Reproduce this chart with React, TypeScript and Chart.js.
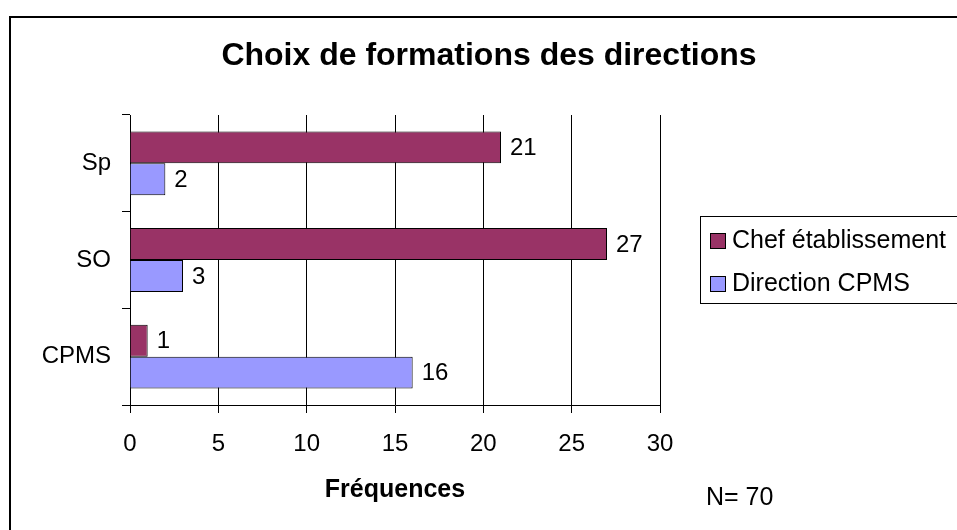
import React, { useEffect, useRef } from "react";
import { Chart, registerables } from "chart.js";

Chart.register(...registerables);

const categories = ["Sp", "SO", "CPMS"];
const seriesNames = ["Chef établissement", "Direction CPMS"];
const chefValues = [21, 27, 1];
const cpmsValues = [2, 3, 16];
const xTicks = [0, 5, 10, 15, 20, 25, 30];
const titleText = "Choix de formations des directions";
const xAxisTitle = "Fréquences";
const noteText = "N= 70";

const FONT = "'Liberation Sans', Arial, sans-serif";

const decorPlugin = {
  id: "decor",
  beforeDraw(chart: any) {
    const ctx = chart.ctx;
    ctx.save();
    ctx.fillStyle = "#ffffff";
    ctx.fillRect(0, 0, chart.width, chart.height);
    ctx.lineWidth = 2;
    ctx.strokeStyle = "#000000";
    ctx.strokeRect(10, 17, 1000, 600);
    ctx.restore();
  },
  afterDraw(chart: any) {
    const ctx = chart.ctx;
    ctx.save();
    ctx.fillStyle = "#000000";
    // title
    ctx.font = `bold 32px ${FONT}`;
    ctx.textAlign = "center";
    ctx.textBaseline = "middle";
    ctx.fillText(titleText, 489, 56);
    // axis title
    ctx.font = `bold 25px ${FONT}`;
    ctx.fillText(xAxisTitle, 395, 490);
    // note
    ctx.font = `25px ${FONT}`;
    ctx.textAlign = "left";
    ctx.fillText(noteText, 706, 498);
    // data labels
    ctx.font = `24px ${FONT}`;
    chart.data.datasets.forEach((ds: any, di: number) => {
      const meta = chart.getDatasetMeta(di);
      meta.data.forEach((el: any, i: number) => {
        ctx.fillText(String(ds.data[i]), el.x + 9, el.y + 1);
      });
    });
    // legend
    ctx.lineWidth = 1;
    ctx.strokeStyle = "#000000";
    ctx.strokeRect(700.5, 216.5, 400, 87);
    chart.data.datasets.forEach((ds: any, di: number) => {
      const cy = 241 + di * 43;
      ctx.fillStyle = ds.backgroundColor;
      ctx.fillRect(710, cy - 8, 16, 16);
      ctx.strokeRect(710.5, cy - 7.5, 15, 15);
      ctx.fillStyle = "#000000";
      ctx.font = `25px ${FONT}`;
      ctx.fillText(ds.label, 732, cy);
    });
    ctx.restore();
  },
};

export default function App() {
  const ref = useRef<HTMLCanvasElement>(null);
  useEffect(() => {
    if (!ref.current) return;
    const chart = new Chart(ref.current, {
      type: "bar",
      data: {
        labels: categories,
        datasets: [
          {
            label: seriesNames[0],
            data: chefValues,
            backgroundColor: "#993366",
            borderColor: "#000000",
            borderWidth: 1,
            categoryPercentage: 0.66,
            barPercentage: 1,
          },
          {
            label: seriesNames[1],
            data: cpmsValues,
            backgroundColor: "#9999FF",
            borderColor: "#000000",
            borderWidth: 1,
            categoryPercentage: 0.66,
            barPercentage: 1,
          },
        ],
      },
      plugins: [decorPlugin],
      options: {
        indexAxis: "y",
        responsive: false,
        animation: false,
        layout: { padding: { left: 0, right: 297, top: 115, bottom: 0 } },
        plugins: {
          legend: { display: false },
          title: { display: false },
          tooltip: { enabled: false },
        },
        scales: {
          x: {
            min: 0,
            max: 30,
            afterBuildTicks: (scale: any) => {
              scale.ticks = xTicks.map((v) => ({ value: v }));
            },
            afterFit: (scale: any) => {
              scale.height = 125;
            },
            grid: {
              color: "#000000",
              lineWidth: 1,
              drawOnChartArea: true,
              drawTicks: true,
              tickLength: 8,
            },
            border: { display: true, color: "#000000", width: 1 },
            ticks: {
              color: "#000000",
              font: { family: FONT, size: 24 },
              padding: 17,
              maxRotation: 0,
            },
          },
          y: {
            afterFit: (scale: any) => {
              scale.width = 130;
            },
            grid: {
              offset: true,
              color: "#000000",
              drawOnChartArea: false,
              drawTicks: true,
              tickLength: 8,
            },
            border: { display: true, color: "#000000", width: 1 },
            ticks: {
              color: "#000000",
              font: { family: FONT, size: 24 },
              padding: 11,
            },
          },
        },
      },
    } as any);
    return () => chart.destroy();
  }, []);
  return (
    <div style={{ position: "fixed", left: 0, top: 0, width: 957, height: 530, background: "#fff" }}>
      <canvas ref={ref} width={957} height={530} style={{ display: "block" }} />
    </div>
  );
}
